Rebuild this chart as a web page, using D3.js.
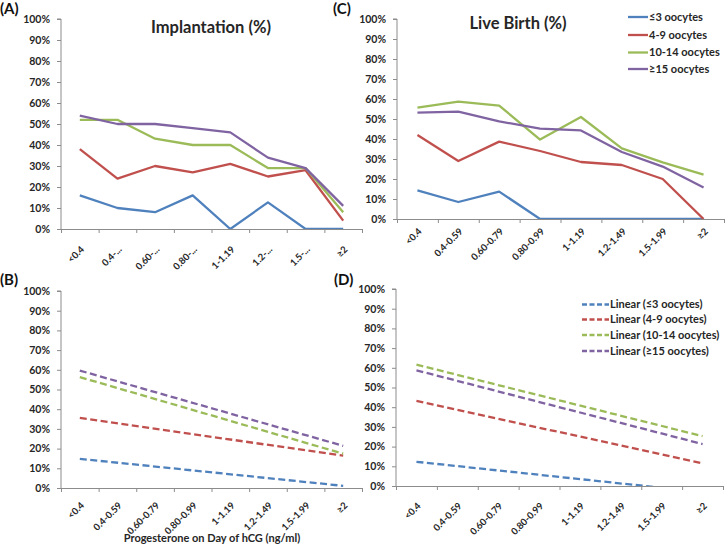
<!DOCTYPE html>
<html>
<head>
<meta charset="utf-8">
<script src="https://cdn.jsdelivr.net/npm/d3@7"></script>
<style>
  html, body { margin: 0; padding: 0; background: #fff; }
  svg text { font-family: Lato, "Open Sans", "DejaVu Sans", sans-serif; font-weight: bold; }
</style>
</head>
<body>
<svg id="chart" width="726" height="554"></svg>
<script>
// ---------- DATA ----------
const categoriesFull = ["<0.4", "0.4-0.59", "0.60-0.79", "0.80-0.99", "1-1.19", "1.2-1.49", "1.5-1.99", "≥2"];
const categoriesShort = ["<0.4", "0.4-...", "0.60-...", "0.80-...", "1-1.19", "1.2-...", "1.5-...", "≥2"];
const seriesNames = ["≤3 oocytes", "4-9 oocytes", "10-14 oocytes", "≥15 oocytes"];
const trendNames = ["Linear (≤3 oocytes)", "Linear (4-9 oocytes)", "Linear (10-14 oocytes)", "Linear (≥15 oocytes)"];
const yTicks = [0, 10, 20, 30, 40, 50, 60, 70, 80, 90, 100];

// Implantation (%) per series
const implantLE3 = [16, 10, 8, 16, 0, 12.7, 0, 0];
const implant4to9 = [38, 24, 30, 27, 31, 25, 28, 4];
const implant10to14 = [52, 52, 43, 40, 40, 29, 29, 8];
const implantGE15 = [54, 50, 50, 48, 46, 34, 29, 11];

// Live birth (%) per series
const liveLE3 = [14.3, 8.5, 13.7, 0, 0, 0, 0, 0];
const live4to9 = [42, 29, 38.7, 34, 28.5, 27, 20, 0];
const live10to14 = [55.7, 58.7, 56.7, 39.7, 51, 35.3, 28.3, 22.2];
const liveGE15 = [53.2, 53.7, 48.8, 45.2, 44.3, 33.5, 26.2, 15.8];

// Linear trend lines: value at first and last category
const implantTrendStart = [14.8, 35.6, 56.3, 59.6];
const implantTrendEnd = [1.1, 16.4, 17.4, 21.4];
const liveTrendStart = [12.3, 43.2, 61.6, 58.7];
const liveTrendEnd = [-3.1, 11.5, 25.3, 21.3];

// ---------- STYLE ----------
const colors = ["#4F81BD", "#C0504D", "#9BBB59", "#8064A2"];
const axisColor = "#8C8C8C";
const textColor = "#262626";

const svg = d3.select("#chart");

function drawPanel(cfg) {
  const g = svg.append("g");
  const x = d3.scaleBand().domain(d3.range(categoriesFull.length)).range([cfg.x0, cfg.x1]);
  const xb = d3.scaleLinear().domain([0, categoriesFull.length]).range([cfg.x0, cfg.x1]);
  const y = d3.scaleLinear().domain([0, 100]).range([cfg.y0, cfg.y1]);
  const cx = i => x(i) + x.bandwidth() / 2;

  const clipId = "clip" + cfg.id;
  svg.append("clipPath").attr("id", clipId)
    .append("rect").attr("x", cfg.x0).attr("y", cfg.y1 - 5)
    .attr("width", cfg.x1 - cfg.x0).attr("height", cfg.y0 - cfg.y1 + 5);

  // y axis
  const ya = g.append("g").attr("transform", `translate(${cfg.x0},0)`)
    .call(d3.axisLeft(y).tickValues(yTicks).tickFormat(d => d + "%").tickSize(4).tickPadding(7));
  ya.select(".domain").attr("stroke", axisColor).attr("d", `M-4,${cfg.y1}H0V${cfg.y0}`);
  ya.selectAll(".tick line").attr("stroke", axisColor);
  ya.selectAll(".tick text").attr("fill", textColor).style("font-size", "10.5px");

  // x axis (ticks at category boundaries)
  const xa = g.append("g").attr("transform", `translate(0,${cfg.y0})`)
    .call(d3.axisBottom(xb).tickValues(d3.range(categoriesFull.length + 1)).tickFormat("").tickSize(4).tickSizeOuter(0));
  xa.select(".domain").attr("stroke", axisColor);
  xa.selectAll(".tick line").attr("stroke", axisColor);

  // x labels
  g.append("g").selectAll("text").data(cfg.labels).join("text")
    .attr("transform", (d, i) => `translate(${cx(i) + 5},${cfg.y0 + cfg.labelOff}) rotate(-45)`)
    .attr("text-anchor", "end")
    .attr("fill", textColor).style("font-size", "9.5px")
    .text(d => d);

  const plot = g.append("g").attr("clip-path", `url(#${clipId})`);
  if (cfg.series) {
    const line = d3.line().x((d, i) => cx(i)).y(d => y(d));
    plot.selectAll("path.s").data(cfg.series).join("path")
      .attr("fill", "none").attr("stroke", (d, i) => colors[i])
      .attr("stroke-width", 2.3).attr("stroke-linejoin", "round")
      .attr("d", d => line(d));
  }
  if (cfg.trendStart) {
    const n = categoriesFull.length - 1;
    plot.selectAll("line.t").data(cfg.trendStart).join("line")
      .attr("x1", cx(0)).attr("y1", d => y(d))
      .attr("x2", cx(n)).attr("y2", (d, i) => y(cfg.trendEnd[i]))
      .attr("stroke", (d, i) => colors[i]).attr("stroke-width", 2.3)
      .attr("stroke-dasharray", "7,3.5");
  }

  if (cfg.title) {
    g.append("text").attr("x", cfg.titleX).attr("y", cfg.titleY)
      .attr("text-anchor", "middle").attr("fill", textColor)
      .style("font-size", "16.5px").text(cfg.title);
  }
  g.append("text").attr("x", cfg.labelX).attr("y", cfg.labelY)
    .attr("fill", "#111").style("font-size", "15px").text(cfg.panel);

  if (cfg.legend) {
    const L = cfg.legend;
    const lg = g.append("g");
    L.names.forEach((name, i) => {
      const yy = L.ys[i];
      lg.append("line").attr("x1", L.lx0).attr("x2", L.lx1).attr("y1", yy).attr("y2", yy)
        .attr("stroke", colors[i]).attr("stroke-width", 2.3)
        .attr("stroke-dasharray", L.dashed ? "5,2.5" : null);
      lg.append("text").attr("x", L.lx1 + 1).attr("y", yy).attr("dy", "0.35em")
        .attr("fill", textColor).style("font-size", "11px").text(name);
    });
  }
  if (cfg.xTitle) {
    g.append("text").attr("x", cfg.xTitleX).attr("y", cfg.xTitleY)
      .attr("text-anchor", "middle").attr("fill", textColor)
      .style("font-size", "11px").text(cfg.xTitle);
  }
}

drawPanel({ id: "A", x0: 61, x1: 362, y0: 229, y1: 19, labels: categoriesShort, labelOff: 21,
  series: [implantLE3, implant4to9, implant10to14, implantGE15],
  title: "Implantation (%)", titleX: 211, titleY: 33, panel: "(A)", labelX: 0, labelY: 14 });

drawPanel({ id: "C", x0: 397, x1: 724, y0: 219, y1: 19, labels: categoriesFull, labelOff: 13,
  series: [liveLE3, live4to9, live10to14, liveGE15],
  title: "Live Birth (%)", titleX: 518, titleY: 29, panel: "(C)", labelX: 333, labelY: 14,
  legend: { names: seriesNames, ys: [17, 35, 52.5, 69], lx0: 628, lx1: 648, dashed: false } });

drawPanel({ id: "B", x0: 61, x1: 362, y0: 488, y1: 291, labels: categoriesFull, labelOff: 18,
  trendStart: implantTrendStart, trendEnd: implantTrendEnd,
  panel: "(B)", labelX: 0, labelY: 285,
  xTitle: "Progesterone on Day of hCG (ng/ml)", xTitleX: 212, xTitleY: 542 });

drawPanel({ id: "D", x0: 396, x1: 723, y0: 486, y1: 289, labels: categoriesFull, labelOff: 20.5,
  trendStart: liveTrendStart, trendEnd: liveTrendEnd,
  panel: "(D)", labelX: 334, labelY: 285,
  legend: { names: trendNames, ys: [304.5, 319.5, 335, 351], lx0: 582, lx1: 609, dashed: true } });
</script>
</body>
</html>
